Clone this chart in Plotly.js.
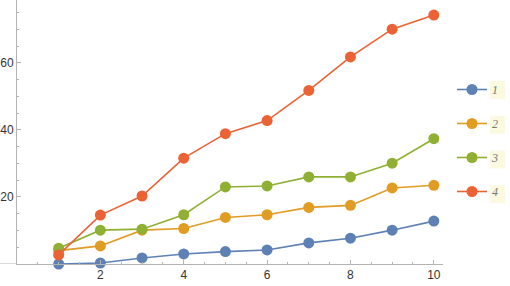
<!DOCTYPE html>
<html>
<head>
<meta charset="utf-8">
<script src="https://cdn.plot.ly/plotly-3.0.1.min.js"></script>
<style>html,body{margin:0;padding:0;background:#fff;}#chart{width:510px;height:286px;}</style>
</head>
<body>
<div id="chart"></div>
<script>
const xValues = [1, 2, 3, 4, 5, 6, 7, 8, 9, 10];
const seriesNames = ["1", "2", "3", "4"];
const series1 = [0.0, 0.3, 1.8, 3.0, 3.7, 4.2, 6.3, 7.7, 10.1, 12.8];
const series2 = [4.0, 5.4, 10.1, 10.6, 13.9, 14.7, 16.9, 17.5, 22.7, 23.5];
const series3 = [4.7, 10.1, 10.4, 14.7, 23.0, 23.3, 26.0, 26.0, 30.1, 37.4];
const series4 = [2.7, 14.6, 20.3, 31.6, 38.9, 42.8, 51.8, 61.8, 70.1, 74.3];
const xTicks = [2, 4, 6, 8, 10];
const yTicks = [20, 40, 60];

const colors = ["#5E81B5", "#E19C24", "#8FB032", "#EB6235"];
const allSeries = [series1, series2, series3, series4];

const traces = allSeries.map((ys, i) => ({
  x: xValues, y: ys, name: seriesNames[i], type: "scatter", mode: "lines+markers",
  line: {color: colors[i], width: 1.6},
  marker: {color: colors[i], size: 11, line: {width: 0}},
  cliponaxis: false, legendgroup: "g" + i
}));

const axisColor = "#b3b3b3";
const tickFont = {family: "Liberation Sans, Arial, sans-serif", size: 12, color: "#333"};

const labelBoxes = [0, 1, 2, 3].map(i => ({
  type: "rect", xref: "paper", yref: "paper", layer: "below",
  x0: (490 - 17) / 426, x1: (505 - 17) / 426,
  y0: (264 - (81 + i * 34.7)) / 264, y1: (264 - (99 + i * 34.7)) / 264,
  fillcolor: "#fbf9df", line: {width: 0}
}));

const layout = {
  width: 510, height: 286,
  margin: {l: 17, r: 67, t: 0, b: 22, pad: 0},
  paper_bgcolor: "#fff", plot_bgcolor: "#fff",
  showlegend: true,
  legend: {
    x: (452 - 17) / 426, xanchor: "left", y: (264 - 75) / 264, yanchor: "top",
    bgcolor: "rgba(0,0,0,0)", tracegroupgap: 15, itemwidth: 30,
    font: {family: "Liberation Serif, serif", size: 12, color: "#777", style: "italic"}
  },
  xaxis: {
    range: [0, 10.22], showgrid: false, zeroline: false,
    showline: true, linecolor: axisColor, linewidth: 1,
    ticks: "inside", ticklen: 4, tickcolor: axisColor, tickwidth: 1,
    tickvals: xTicks, ticktext: xTicks.map(String), tickfont: tickFont,
    minor: {dtick: 0.5, tick0: 0, ticks: "inside", ticklen: 2, tickcolor: axisColor, showgrid: false}
  },
  yaxis: {
    range: [0, 78.8], showgrid: false, zeroline: false,
    showline: true, linecolor: axisColor, linewidth: 1,
    ticks: "inside", ticklen: 4, tickcolor: axisColor, tickwidth: 1,
    tickvals: yTicks, ticktext: yTicks.map(String), tickfont: tickFont,
    minor: {dtick: 5, tick0: 0, ticks: "inside", ticklen: 2, tickcolor: axisColor, showgrid: false}
  },
  shapes: labelBoxes.concat([{
    type: "line", xref: "paper", yref: "y", x0: -17 / 426, x1: 0, y0: 0, y1: 0,
    line: {color: axisColor, width: 1}
  }])
};

Plotly.newPlot("chart", traces, layout, {staticPlot: true, displayModeBar: false});
</script>
</body>
</html>
